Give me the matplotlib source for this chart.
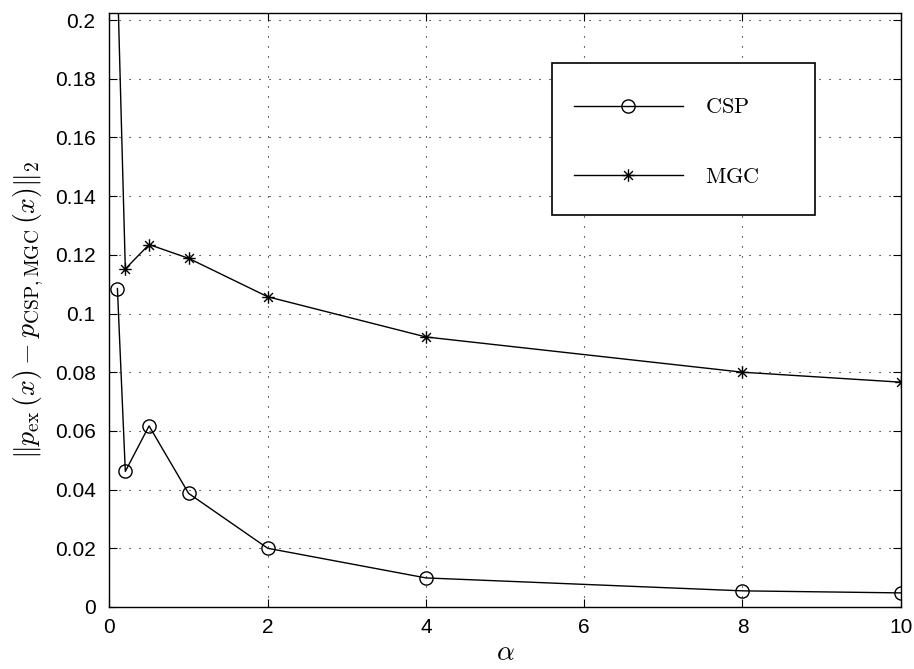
import matplotlib
matplotlib.use("Agg")
import matplotlib.pyplot as plt
from matplotlib.path import Path
from matplotlib.patches import Rectangle

# data
alpha = [0.1, 0.2, 0.5, 1, 2, 4, 8, 10]
csp = [0.1085, 0.0462, 0.0617, 0.0387, 0.0200, 0.0099, 0.0055, 0.0048]
mgc = [0.215, 0.1152, 0.1235, 0.1188, 0.1057, 0.0920, 0.0800, 0.0766]
xticks = [0, 2, 4, 6, 8, 10]
yticks = [0, 0.02, 0.04, 0.06, 0.08, 0.1, 0.12, 0.14, 0.16, 0.18, 0.2]
ytick_labels = ["0", "0.02", "0.04", "0.06", "0.08", "0.1", "0.12", "0.14", "0.16", "0.18", "0.2"]

plt.rcParams["font.family"] = ["Liberation Sans", "DejaVu Sans"]
plt.rcParams["mathtext.fontset"] = "cm"

# MATLAB style asterisk: '+' and 'x' on top of each other
d = 0.7071
asterisk = Path(
    [(-1, 0), (1, 0), (0, -1), (0, 1), (-d, -d), (d, d), (-d, d), (d, -d)],
    [Path.MOVETO, Path.LINETO] * 4,
)

fig = plt.figure(figsize=(9.14, 6.69), dpi=100)
ax = fig.add_axes([0.1198, 0.0927, 0.8657, 0.8879])

ax.plot(alpha, csp, color="black", lw=1.0, marker="o", ms=9.5,
        mfc="none", mec="black", mew=1.0, label=r"$\mathrm{CSP}$")
ax.plot(alpha, mgc, color="black", lw=1.0, marker=asterisk, ms=9,
        mfc="none", mec="black", mew=1.0, label=r"$\mathrm{MGC}$")

ax.set_xlim(0, 10)
ax.set_ylim(0, 0.2024)
ax.set_xticks(xticks)
ax.set_xticklabels([str(t) for t in xticks])
ax.set_yticks(yticks)
ax.set_yticklabels(ytick_labels)
ax.tick_params(direction="in", length=6, width=0.8, labelsize=15,
               top=True, right=True)
ax.tick_params(axis="y", pad=10)
ax.tick_params(axis="x", pad=8)
for s in ax.spines.values():
    s.set_linewidth(1.0)

ax.grid(True, color="black", linestyle=(0, (1, 8)), linewidth=0.8)

ax.set_xlabel(r"$\alpha$", fontsize=20, labelpad=2)
ax.set_ylabel(r"$\|p_{\mathrm{ex}}\,(x) - p_{\mathrm{CSP,MGC}}\,(x)\|_2$",
              fontsize=20, labelpad=6)

# legend box drawn separately so the padding matches the reference
ax.add_patch(Rectangle((0.559, 0.660), 0.333, 0.256, transform=ax.transAxes,
                       facecolor="white", edgecolor="black", lw=1.2, zorder=4))
leg = ax.legend(loc="upper left", bbox_to_anchor=(0.587, 0.858),
                fontsize=16, frameon=False, handlelength=4.9,
                handletextpad=1.0, borderpad=0, labelspacing=2.2,
                borderaxespad=0)
leg.set_zorder(5)

plt.savefig("out.png", dpi=100)
